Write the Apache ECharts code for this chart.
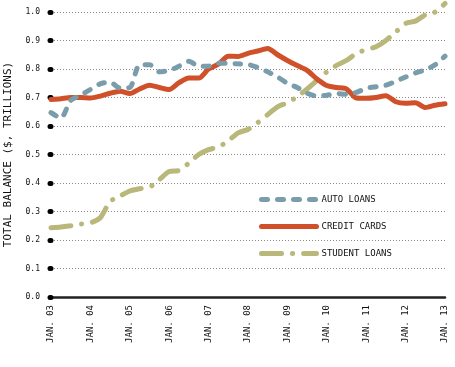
<!DOCTYPE html>
<html><head><meta charset="utf-8">
<script src="https://cdn.jsdelivr.net/npm/echarts@6/dist/echarts.min.js"></script>
<style>html,body{margin:0;padding:0;background:#fff}#c{width:455px;height:367px}</style>
</head><body><div id="c"></div>
<script>
const quarters = ["2003Q1","2003Q2","2003Q3","2003Q4","2004Q1","2004Q2","2004Q3","2004Q4","2005Q1","2005Q2","2005Q3","2005Q4","2006Q1","2006Q2","2006Q3","2006Q4","2007Q1","2007Q2","2007Q3","2007Q4","2008Q1","2008Q2","2008Q3","2008Q4","2009Q1","2009Q2","2009Q3","2009Q4","2010Q1","2010Q2","2010Q3","2010Q4","2011Q1","2011Q2","2011Q3","2011Q4","2012Q1","2012Q2","2012Q3","2012Q4","2013Q1"];
const tickLabels = ["JAN. 03","JAN. 04","JAN. 05","JAN. 06","JAN. 07","JAN. 08","JAN. 09","JAN. 10","JAN. 11","JAN. 12","JAN. 13"];
const autoLoans = [0.647,0.628,0.690,0.708,0.728,0.748,0.754,0.733,0.735,0.815,0.815,0.790,0.795,0.810,0.827,0.810,0.810,0.820,0.820,0.818,0.816,0.805,0.790,0.772,0.750,0.735,0.715,0.705,0.708,0.714,0.711,0.718,0.732,0.738,0.743,0.757,0.772,0.786,0.797,0.815,0.845];
const creditCards = [0.693,0.696,0.700,0.700,0.698,0.705,0.715,0.722,0.714,0.730,0.743,0.735,0.728,0.752,0.768,0.768,0.800,0.817,0.845,0.844,0.855,0.863,0.872,0.850,0.830,0.812,0.795,0.765,0.742,0.735,0.730,0.698,0.697,0.700,0.706,0.685,0.680,0.682,0.665,0.673,0.678];
const studentLoans = [0.243,0.246,0.250,0.256,0.260,0.278,0.335,0.354,0.372,0.380,0.385,0.412,0.440,0.444,0.470,0.500,0.517,0.527,0.548,0.576,0.588,0.612,0.640,0.667,0.682,0.703,0.730,0.760,0.790,0.813,0.830,0.855,0.868,0.878,0.900,0.930,0.960,0.968,0.990,1.000,1.030];
const seriesNames = ["AUTO LOANS","CREDIT CARDS","STUDENT LOANS"];
const yAxisTitle = "TOTAL BALANCE ($, TRILLIONS)";

const mono = '"DejaVu Sans Mono", monospace';
const chart = echarts.init(document.getElementById('c'), null, {renderer:'canvas'});
chart.setOption({
  animation:false,
  backgroundColor:'#fff',
  grid:{left:51,right:10,top:12,bottom:70,containLabel:false,outerBoundsMode:'none'},
  legend:{
    orient:'vertical', left:254, top:190, itemWidth:55, itemHeight:6, itemGap:18,
    itemStyle:{opacity:0},
    lineStyle:{width:5},
    textStyle:{fontFamily:mono,fontSize:9,color:'#111'},
    data:seriesNames
  },
  xAxis:{
    type:'category', data:quarters, boundaryGap:false,
    axisLine:{show:true,lineStyle:{color:'#222',width:2.5}},
    axisTick:{show:false},
    splitLine:{show:false},
    axisLabel:{
      interval:0, rotate:90, margin:8,
      fontFamily:mono, fontSize:9, color:'#111',
      formatter:(v,i)=> (i%4===0 ? tickLabels[i/4] : '')
    }
  },
  yAxis:{
    type:'value', min:0, max:1, interval:0.1,
    name:yAxisTitle, nameLocation:'middle', nameGap:37,
    nameTextStyle:{fontFamily:mono,fontSize:11,color:'#111'},
    axisLine:{show:false},
    axisTick:{show:true,length:1,lineStyle:{color:'#000',width:5,cap:'round'}},
    axisLabel:{margin:11,fontFamily:mono,fontSize:8,color:'#111',formatter:v=>v.toFixed(1)},
    splitLine:{show:true,lineStyle:{color:'#888',width:1,type:[1,2]}}
  },
  series:[
    {name:seriesNames[0],type:'line',data:autoLoans,symbol:'none',smooth:0.25,clip:false,z:3,
     lineStyle:{color:'#7a9dac',width:5,type:[6,10],cap:'round'},itemStyle:{color:'#7a9dac'}},
    {name:seriesNames[1],type:'line',data:creditCards,symbol:'none',smooth:0.25,clip:false,z:2,
     lineStyle:{color:'#d0502a',width:5,cap:'round'},itemStyle:{color:'#d0502a'}},
    {name:seriesNames[2],type:'line',data:studentLoans,symbol:'none',smooth:0.25,clip:false,z:1,
     lineStyle:{color:'#b9b77a',width:5,type:[20,11,0.1,11],cap:'round'},itemStyle:{color:'#b9b77a'}}
  ]
});
</script></body></html>
